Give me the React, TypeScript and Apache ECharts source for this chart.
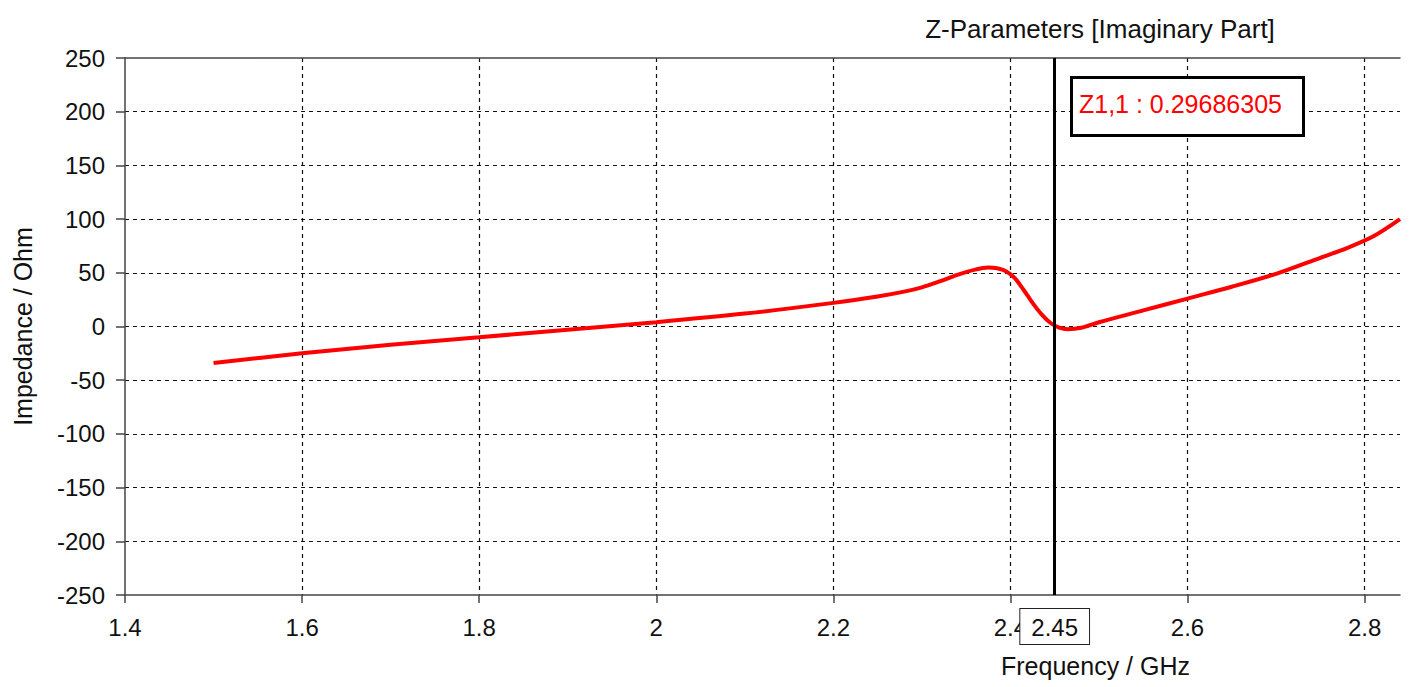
import React, { useEffect, useRef } from "react";
import * as echarts from "echarts";

const freqGHz = [1.5, 1.6, 1.7, 1.8, 1.9, 2.0, 2.1, 2.2, 2.25, 2.28, 2.3, 2.32, 2.34, 2.36, 2.375, 2.385, 2.395, 2.405, 2.415, 2.425, 2.435, 2.445, 2.455, 2.465, 2.48, 2.5, 2.55, 2.6, 2.65, 2.7, 2.75, 2.78, 2.81, 2.84];
const imagZ = [-34, -25, -17, -10, -3, 4, 12, 22, 28, 32.5, 36.5, 42, 48, 53, 55, 54.2, 51.5, 45, 34, 22, 11.5, 3.5, -1, -2.5, -1.2, 4, 15, 26, 37, 49, 64, 73, 84, 100];
const markerFreq = 2.45;
const markerText = "Z1,1 : 0.29686305";
const titleText = "Z-Parameters [Imaginary Part]";
const xName = "Frequency / GHz";
const yName = "Impedance / Ohm";

const FONT = "'Liberation Sans', Arial, sans-serif";

export default function App() {
  const ref = useRef<HTMLDivElement>(null);
  useEffect(() => {
    if (!ref.current) return;
    const chart = echarts.init(ref.current, null, { renderer: "svg" });
    const data = freqGHz.map((f, i) => [f, imagZ[i]]);
    chart.setOption({
      animation: false,
      backgroundColor: "#fff",
      textStyle: { fontFamily: FONT },
      title: {
        text: titleText,
        left: 1095,
        top: 11,
        textAlign: "center",
        textStyle: { fontFamily: FONT, fontSize: 26, fontWeight: "normal", color: "#111" },
      },
      grid: { left: 125, right: 11, top: 58, bottom: 92, containLabel: false },
      xAxis: [
        {
          type: "value",
          min: 1.4,
          max: 2.84,
          interval: 0.2,
          name: xName,
          nameLocation: "middle",
          nameGap: 58,
          nameTextStyle: { fontFamily: FONT, fontSize: 25, color: "#111", padding: [0, 0, 0, 666] },
          axisLine: { show: true, onZero: false, lineStyle: { color: "#444", width: 1.5 } },
          axisTick: { show: true, length: 8, lineStyle: { color: "#444", width: 1.5 } },
          axisLabel: { fontFamily: FONT, fontSize: 24, color: "#111", margin: 20, showMaxLabel: false },
          splitLine: { show: true, showMaxLine: false, showMinLine: false, lineStyle: { color: "#111", type: [4, 4], width: 1.2 } },
        },
        {
          type: "value",
          position: "top",
          min: 1.4,
          max: 2.84,
          axisLine: { show: true, onZero: false, lineStyle: { color: "#444", width: 1.5 } },
          axisTick: { show: false },
          axisLabel: { show: false },
          splitLine: { show: false },
        },
      ],
      yAxis: {
        type: "value",
        min: -250,
        max: 250,
        interval: 50,
        name: yName,
        nameLocation: "middle",
        nameGap: 90,
        nameTextStyle: { fontFamily: FONT, fontSize: 25, color: "#111" },
        axisLine: { show: true, onZero: false, lineStyle: { color: "#444", width: 1.5 } },
        axisTick: { show: true, length: 9, lineStyle: { color: "#444", width: 1.5 } },
        axisLabel: { fontFamily: FONT, fontSize: 24, color: "#111", margin: 20 },
        splitLine: { show: true, showMinLine: false, showMaxLine: false, lineStyle: { color: "#111", type: [4, 4], width: 1.2 } },
      },
      series: [
        {
          type: "line",
          xAxisIndex: 0,
          data,
          smooth: 0.3,
          showSymbol: false,
          symbol: "none",
          lineStyle: { color: "#ff0000", width: 4 },
          markLine: {
            silent: true,
            symbol: ["none", "none"],
            lineStyle: { color: "#000", width: 3, type: "solid" },
            label: {
              show: true,
              position: "start",
              distance: 14,
              formatter: String(markerFreq),
              fontFamily: FONT,
              fontSize: 24,
              color: "#111",
              backgroundColor: "#fff",
              borderColor: "#222",
              borderWidth: 1,
              padding: [6, 11, 5, 11],
            },
            data: [{ xAxis: markerFreq }],
          },
        },
      ],
      graphic: [
        {
          type: "rect",
          left: 1070,
          top: 76,
          shape: { width: 232, height: 58 },
          style: { fill: "#fff", stroke: "#000", lineWidth: 3 },
          z: 100,
        },
        {
          type: "text",
          left: 1079,
          top: 91,
          style: { text: markerText, fill: "#ff0000", fontFamily: FONT, fontSize: 25 },
          z: 101,
        },
      ],
    });
    return () => chart.dispose();
  }, []);
  return <div ref={ref} style={{ width: 1411, height: 687, position: "absolute", left: 0, top: 0 }} />;
}
